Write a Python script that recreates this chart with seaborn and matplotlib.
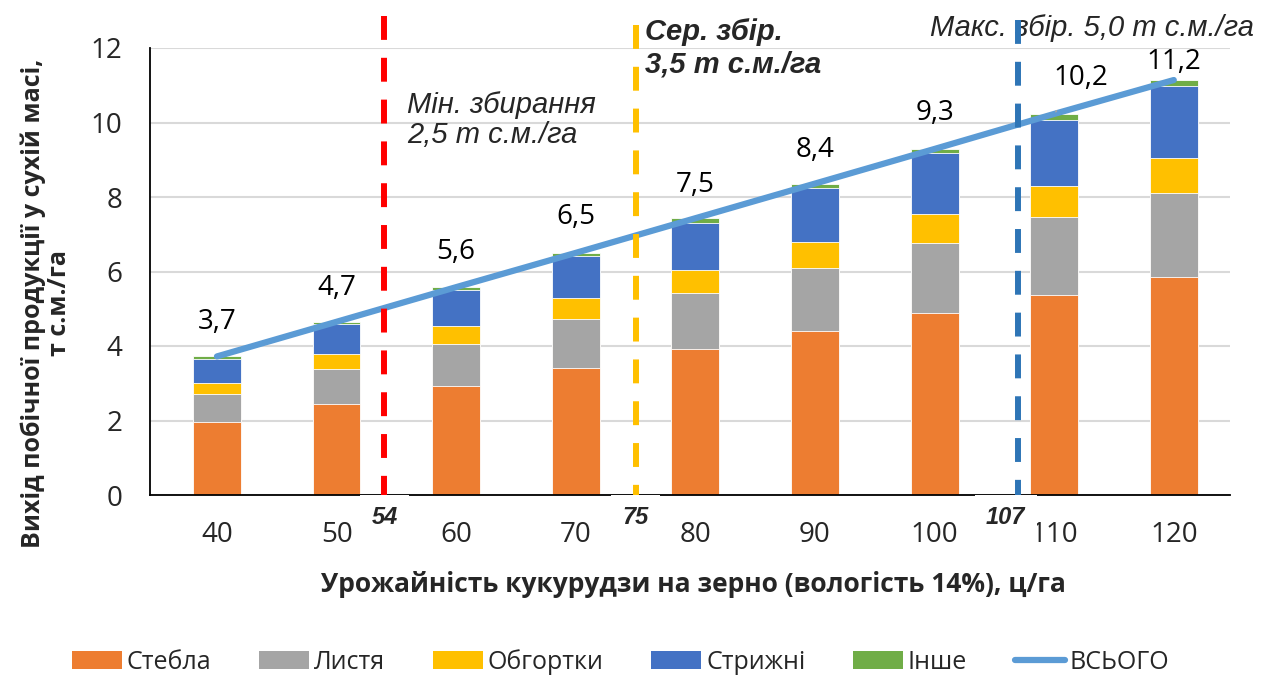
import numpy as np
import pandas as pd
import matplotlib.pyplot as plt
import seaborn as sns
from matplotlib.patches import Patch
from matplotlib.lines import Line2D

# Data (t dry matter / ha)
yields = ['40', '50', '60', '70', '80', '90', '100', '110', '120']
stems = [1.95, 2.44, 2.92, 3.42, 3.91, 4.40, 4.88, 5.36, 5.86]
leaves = [0.76, 0.94, 1.14, 1.31, 1.51, 1.69, 1.89, 2.09, 2.26]
husks = [0.30, 0.40, 0.48, 0.56, 0.61, 0.70, 0.77, 0.85, 0.94]
cobs = [0.65, 0.80, 0.96, 1.12, 1.28, 1.44, 1.63, 1.78, 1.92]
other = [0.06, 0.07, 0.08, 0.09, 0.12, 0.13, 0.12, 0.15, 0.16]
total_labels = ['3,7', '4,7', '5,6', '6,5', '7,5', '8,4', '9,3', '10,2', '11,2']

harvest_marks = [54, 75, 107]
harvest_labels = ['54', '75', '107']

sns.set_style('white')
plt.rcParams['font.family'] = ['Open Sans', 'DejaVu Sans']

parts = ['Стебла', 'Листя', 'Обгортки', 'Стрижні', 'Інше']
colors = ['#ED7D31', '#A5A5A5', '#FFC000', '#4472C4', '#70AD47']
df = pd.DataFrame({'yield': yields, 'Стебла': stems, 'Листя': leaves,
                   'Обгортки': husks, 'Стрижні': cobs, 'Інше': other})
cum = df[parts].cumsum(axis=1)
df['total'] = cum['Інше']

fig = plt.figure(figsize=(12.69, 6.76), dpi=100)
ax = fig.add_axes([150 / 1269, 1 - 495 / 676, 1080 / 1269, 447 / 676])

# stacked bars: draw cumulative heights from the top layer down
for part, color in reversed(list(zip(parts, colors))):
    sns.barplot(x=df['yield'], y=cum[part], color=color, saturation=1,
                width=0.4, edgecolor='white', linewidth=0.6, ax=ax, zorder=2)

# total line
pos = np.arange(len(yields))
sns.lineplot(x=pos, y=df['total'].values, color='#5B9BD5', linewidth=4.5,
             ax=ax, zorder=4)

# value labels above bars
label_offsets = [(0, 25), (0, 24), (0, 25), (0, 26), (0, 24), (0, 24), (0, 26), (19, 26), (0, 13)]
for i, (lab, off) in enumerate(zip(total_labels, label_offsets)):
    arrow = None
    if i == 7:
        arrow = dict(arrowstyle='-', color='#A5A5A5', lw=1.2, shrinkA=14, shrinkB=2)
    ax.annotate(lab, (i, df['total'][i]), xytext=off, textcoords='offset points',
                ha='center', va='center', fontsize=20, color='black',
                arrowprops=arrow, zorder=5)

# harvest threshold lines
line_colors = ['#FF0000', '#FFC000', '#2E75B6']
line_tops = [12.87, 12.62, 12.74]
label_dx = [0, 0, -9]
for mark, lab, c, top, dx in zip(harvest_marks, harvest_labels, line_colors, line_tops, label_dx):
    xp = (mark - 40) / 10
    ax.plot([xp, xp], [top, 0], color=c, lw=4.3, linestyle=(0, (4, 3)),
            clip_on=False, zorder=6)
    ax.annotate(lab, (xp, 0), xytext=(dx, -16), textcoords='offset points',
                ha='center', va='center', fontsize=17, fontweight='bold',
                fontstyle='italic', family=['Liberation Sans', 'DejaVu Sans'],
                annotation_clip=False, zorder=5,
                bbox=dict(facecolor='white', edgecolor='none', pad=8))

note_font = ['Liberation Sans', 'DejaVu Sans']
ax.text(1.59, 10.85, 'Мін. збирання\n2,5 т с.м./га', ha='left', va='top',
        fontsize=21, fontstyle='italic', family=note_font, linespacing=1.1, zorder=5)
ax.text(3.58, 12.8, 'Сер. збір.\n3,5 т с.м./га', ha='left', va='top',
        fontsize=21, fontstyle='italic', fontweight='bold', family=note_font,
        linespacing=1.2, zorder=5)
ax.text(5.96, 12.55, 'Макс. збір. 5,0 т с.м./га', ha='left', va='center',
        fontsize=21, fontstyle='italic', family=note_font, zorder=5)

# axes styling
ax.set_xlim(-0.56, 8.47)
ax.set_ylim(0, 12)
ax.set_yticks(range(0, 13, 2))
ax.grid(axis='y', color='#D9D9D9', lw=1.5, zorder=0)
ax.set_axisbelow(True)
ax.set_xlabel('')
ax.set_ylabel('')
ax.tick_params(axis='x', length=0, pad=19, labelsize=20)
ax.tick_params(axis='y', length=0, pad=20, labelsize=20)
for s in ['top', 'right']:
    ax.spines[s].set_visible(False)
for s in ['left', 'bottom']:
    ax.spines[s].set_color('black')
    ax.spines[s].set_linewidth(1.3)

fig.text(46 / 1269, 1 - 303 / 676, 'Вихід побічної продукції у сухій масі,\nт с.м./га',
         rotation=90, ha='center', va='center', fontsize=18, fontweight='bold',
         multialignment='center', linespacing=1.05)
fig.text(693 / 1269, 1 - 585 / 676, 'Урожайність кукурудзи на зерно (вологість 14%), ц/га',
         ha='center', va='center', fontsize=19, fontweight='bold')

handles = [Patch(facecolor=c, edgecolor='none') for c in colors]
handles.append(Line2D([0], [0], color='#5B9BD5', lw=4.5))
fig.legend(handles, parts + ['ВСЬОГО'], loc='center', bbox_to_anchor=(0.489, 1 - 662 / 676),
           ncol=6, frameon=False, fontsize=18, handlelength=2.0, handleheight=0.7,
           columnspacing=1.9, handletextpad=0.2)

plt.savefig('out.png', dpi=100)
